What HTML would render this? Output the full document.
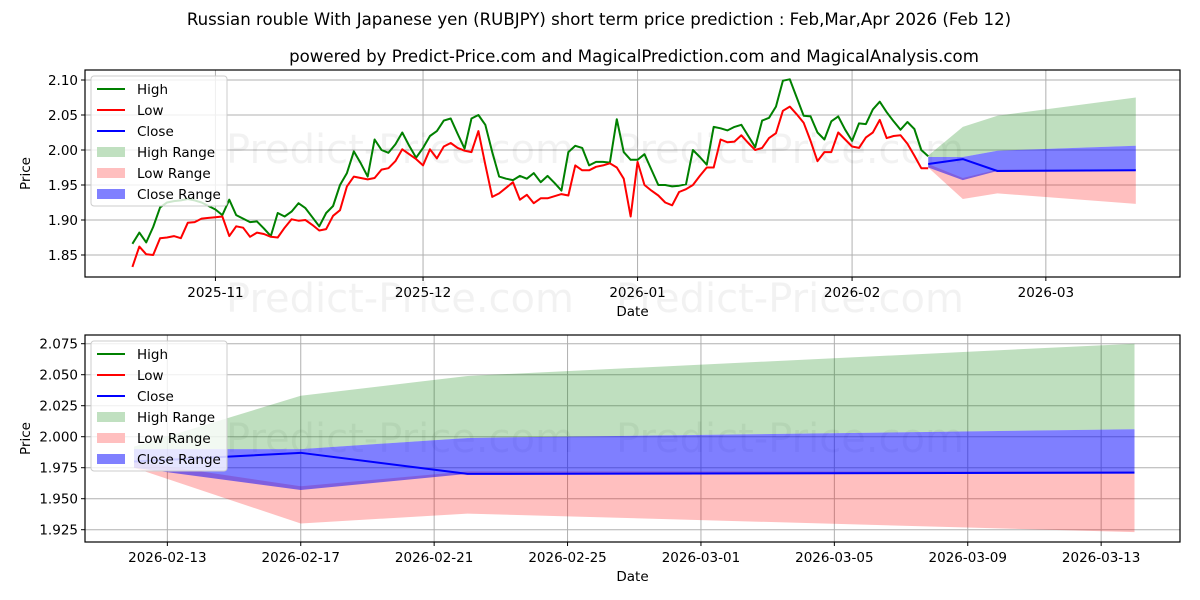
<!DOCTYPE html>
<html><head><meta charset="utf-8"><style>
body{margin:0;background:#fff;}
svg{display:block;font-family:"DejaVu Sans","Liberation Sans",sans-serif;}
</style></head><body>
<svg id="chart" width="1200" height="600" viewBox="0 0 1200 600">
<text x="599" y="25" text-anchor="middle" font-size="16.6">Russian rouble With Japanese yen (RUBJPY) short term price prediction : Feb,Mar,Apr 2026 (Feb 12)</text>
<text x="634" y="62" text-anchor="middle" font-size="16.6">powered by Predict-Price.com and MagicalPrediction.com and MagicalAnalysis.com</text>
<g id="top"></g>
<g id="bot"></g>
</svg>
<script>
// History: day offsets from 2025-10-20
const histHigh = [1.866,1.882,1.868,1.890,1.918,1.925,1.927,1.928,1.930,1.928,1.925,1.920,1.915,1.907,1.929,1.907,1.902,1.897,1.898,1.888,1.877,1.910,1.905,1.912,1.924,1.917,1.904,1.891,1.910,1.920,1.950,1.967,1.998,1.981,1.962,2.015,2.000,1.996,2.008,2.025,2.006,1.989,2.003,2.020,2.027,2.042,2.045,2.023,2.002,2.045,2.050,2.036,1.997,1.962,1.959,1.957,1.963,1.959,1.967,1.954,1.963,1.953,1.942,1.997,2.006,2.003,1.978,1.983,1.983,1.982,2.044,1.997,1.986,1.986,1.994,1.972,1.950,1.950,1.948,1.949,1.951,2.000,1.990,1.979,2.033,2.031,2.028,2.033,2.036,2.020,2.004,2.042,2.046,2.062,2.099,2.101,2.075,2.049,2.048,2.025,2.015,2.041,2.048,2.029,2.013,2.038,2.037,2.058,2.069,2.054,2.041,2.029,2.040,2.030,2.000,1.991];
const histLow = [1.833,1.862,1.851,1.850,1.874,1.875,1.877,1.874,1.896,1.897,1.902,1.903,1.904,1.905,1.877,1.891,1.889,1.876,1.882,1.880,1.876,1.875,1.889,1.901,1.899,1.900,1.893,1.885,1.887,1.906,1.914,1.948,1.962,1.960,1.958,1.960,1.972,1.974,1.984,2.001,1.994,1.987,1.978,2.001,1.988,2.005,2.010,2.003,1.999,1.997,2.027,1.979,1.933,1.938,1.946,1.954,1.929,1.936,1.924,1.931,1.931,1.934,1.937,1.935,1.978,1.971,1.971,1.976,1.978,1.981,1.975,1.959,1.905,1.983,1.950,1.942,1.935,1.925,1.921,1.940,1.944,1.950,1.963,1.975,1.975,2.015,2.011,2.012,2.021,2.010,2.000,2.003,2.017,2.024,2.056,2.062,2.051,2.039,2.013,1.984,1.997,1.997,2.025,2.015,2.005,2.003,2.018,2.025,2.043,2.017,2.020,2.021,2.009,1.992,1.974,1.974];
// Forecast (day offsets from 2025-10-20)
const fcDays = [115,120,125,145];
const fcClose = [1.980,1.987,1.970,1.971];
const fcHighUp = [1.992,2.033,2.049,2.075];
const fcHighLo = [1.990,1.990,1.999,2.006];
const fcLowUp = [1.980,1.960,1.972,1.972];
const fcLowLo = [1.975,1.930,1.938,1.923];
const fcCloseUp = [1.990,1.990,1.999,2.006];
const fcCloseLo = [1.975,1.957,1.970,1.971];
const topYTicks = [1.85,1.90,1.95,2.00,2.05,2.10];
const topXTicks = [12,42,73,104,132];
const topXLabels = ["2025-11","2025-12","2026-01","2026-02","2026-03"];
const botYTicks = [1.925,1.950,1.975,2.000,2.025,2.050,2.075];
const botXTicks = [116,120,124,128,132,136,140,144];
const botXLabels = ["2026-02-13","2026-02-17","2026-02-21","2026-02-25","2026-03-01","2026-03-05","2026-03-09","2026-03-13"];

const NS="http://www.w3.org/2000/svg";
function mk(parent,tag,attrs,text){const e=document.createElementNS(NS,tag);for(const k in attrs)e.setAttribute(k,attrs[k]);if(text!==undefined)e.textContent=text;parent.appendChild(e);return e;}

function panel(g,box,xs,ys,yTicks,yFmt,xTicks,xLabels,marks,drawFn){
  const [L,T,R,B]=box;
  for(const t of yTicks){const y=ys(t);
    const gl=mk(g,'line',{x1:L,x2:R,y1:y,y2:y,stroke:'#b0b0b0','stroke-width':1});
    
    mk(g,'line',{x1:L-4,x2:L,y1:y,y2:y,stroke:'#000'});
    const tl=mk(g,'text',{x:L-7,y:y+5,'text-anchor':'end','font-size':13.5},yFmt(t));
    }
  xTicks.forEach((t,i)=>{const x=xs(t);
    const gl=mk(g,'line',{x1:x,x2:x,y1:T,y2:B,stroke:'#b0b0b0','stroke-width':1});
    
    mk(g,'line',{x1:x,x2:x,y1:B,y2:B+4,stroke:'#000'});
    const tl=mk(g,'text',{x:x,y:B+20,'text-anchor':'middle','font-size':13.5},xLabels[i]);
    });
  marks.forEach(p=>{
    const w=mk(g,'text',{x:p[0],y:p[1],'text-anchor':'middle','font-size':40,fill:'#000','fill-opacity':0.05},'Predict-Price.com');
    });
  drawFn(g);
  const fr=mk(g,'rect',{x:L,y:T,width:R-L,height:B-T,fill:'none',stroke:'#000','stroke-width':1.2});
  
  const xl=mk(g,'text',{x:(L+R)/2,y:B+39,'text-anchor':'middle','font-size':13.5},'Date');
  
  const yl=mk(g,'text',{x:0,y:0,'text-anchor':'middle','font-size':13.5,transform:`translate(${L-55},${(T+B)/2}) rotate(-90)`},'Price');
  
  const lg=mk(g,'g',{});
  
  mk(lg,'rect',{x:L+6,y:T+6,width:136,height:130,rx:3,fill:'#fff','fill-opacity':0.8,stroke:'#ccc'});
  const items=[['High','line','#008000'],['Low','line','#ff0000'],['Close','line','#0000ff'],['High Range','area','#c0e0c0'],['Low Range','area','#ffbfbf'],['Close Range','area','#8080ff']];
  items.forEach((it,i)=>{const y=T+19+i*21;
    const e=mk(lg,'g',{});
    
    if(it[1]=='line')mk(e,'line',{x1:L+12,x2:L+40,y1:y,y2:y,stroke:it[2],'stroke-width':2});
    else mk(e,'rect',{x:L+12,y:y-5,width:28,height:10,fill:it[2]});
    mk(e,'text',{x:L+52,y:y+5,'font-size':13.5},it[0]);});
}
function pts(xs,ys,days,vals){return vals.map((v,i)=>xs(days[i])+','+ys(v)).join(' ');}
function band(g,xs,ys,days,up,lo,fill,op,name){
  const p=pts(xs,ys,days,up)+' '+pts(xs,ys,days.slice().reverse(),lo.slice().reverse());
  const e=mk(g,'polygon',{points:p,fill:fill,'fill-opacity':op});
  }
function line(g,xs,ys,days,vals,color,name){
  const e=mk(g,'polyline',{points:pts(xs,ys,days,vals),fill:'none',stroke:color,'stroke-width':2,'stroke-linejoin':'round'});
  }
function drawForecast(g,xs,ys){
  band(g,xs,ys,fcDays,fcHighUp,fcHighLo,'#008000',0.25,'high-range-band');
  band(g,xs,ys,fcDays,fcLowUp,fcLowLo,'#ff0000',0.25,'low-range-band');
  band(g,xs,ys,fcDays,fcCloseUp,fcCloseLo,'#0000ff',0.5,'close-range-band');
  line(g,xs,ys,fcDays,fcClose,'#0000ff','close-forecast-line');}

const histDays=histHigh.map((_,i)=>i);
const tx=d=>132.4+6.92*d, ty=v=>150-(v-2.0)*700;
panel(document.getElementById('top'),[85,70,1180,277],tx,ty,topYTicks,v=>v.toFixed(2),topXTicks,topXLabels,
  [[400,163],[790,163],[400,312],[790,312]],g=>{
  drawForecast(g,tx,ty);
  line(g,tx,ty,histDays,histHigh,'#008000','high-line');
  line(g,tx,ty,histDays,histLow,'#ff0000','low-line');
});
const bx=d=>134+33.35*(d-115), by=v=>436.7-(v-2.0)*1240;
panel(document.getElementById('bot'),[85,335,1180,542],bx,by,botYTicks,v=>v.toFixed(3),botXTicks,botXLabels,
  [[400,452],[790,452]],g=>{
  drawForecast(g,bx,by);
});
</script>
</body></html>
